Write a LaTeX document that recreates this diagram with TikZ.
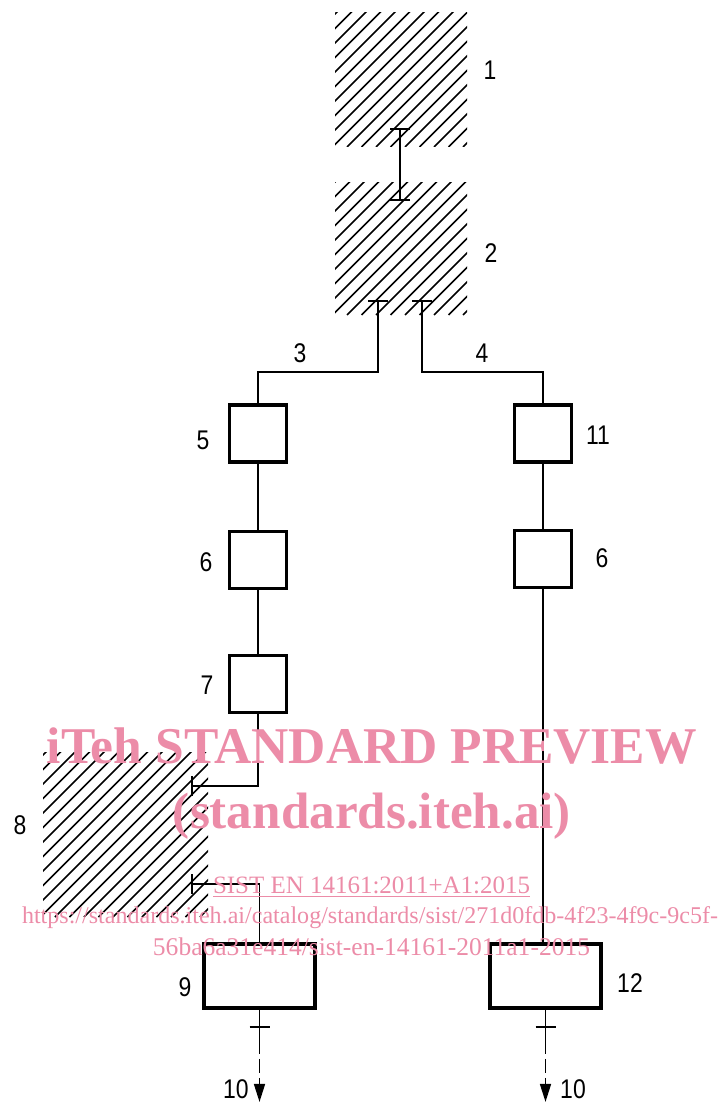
\documentclass[tikz,border=0pt]{standalone}
\usepackage{fontspec}
\usepackage{graphicx}
\newfontfamily\lblfont[FakeStretch=0.85]{Liberation Sans}
\newfontfamily\wmfont{Liberation Serif}
\usetikzlibrary{arrows.meta,calc}
\definecolor{wmpink}{RGB}{236,140,168}
\begin{document}
\begin{tikzpicture}[x=1pt,y=-1pt,
  conn/.style={line width=1.6pt},
  stepbox/.style={draw,line width=3.8pt,minimum width=57pt,minimum height=57pt,inner sep=0pt},
  widebox/.style={draw,line width=3.8pt,minimum width=111pt,minimum height=64pt,inner sep=0pt},
  hatchbox/.style={inner sep=0pt,path picture={
     \foreach \k in {0,...,45}{
       \draw[line width=1.7pt] ([xshift=\k*14.5pt-220pt]path picture bounding box.south west) -- ++(260pt,260pt);}}},
  lbl/.style={font=\lblfont\fontsize{27}{27}\selectfont,inner sep=0pt},
  tbar/.tip={Bar[width=20pt,line width=1.6pt]},
  wm/.style={text=wmpink,inner sep=0pt,anchor=base}
]
\useasboundingbox (0,0) rectangle (723,1102);

% hatched areas
\node[hatchbox,minimum width=132pt,minimum height=134pt] (h1) at (401,80) {};
\node[hatchbox,minimum width=132pt,minimum height=132pt] (h2) at (401,249) {};
\node[hatchbox,minimum width=165pt,minimum height=165pt] (h8) at (125.5,834.5) {};

% step boxes
\node[stepbox] (b5) at (258,433.5) {};
\node[stepbox] (b6l) at (258,560) {};
\node[stepbox] (b7) at (258,684) {};
\node[stepbox] (b11) at (543,433.5) {};
\node[stepbox] (b6r) at (543,559) {};
\node[widebox] (b9) at (259.5,976) {};
\node[widebox] (b12) at (545.5,976) {};

% labels
\node[lbl] (l1) at (490,70) {1};
\node[lbl] (l2) at (491,253) {2};
\node[lbl] (l3) at (300,353) {3};
\node[lbl] (l4) at (482,353) {4};
\node[lbl] (l5) at (203,440) {5};
\node[lbl] (l11) at (598,435) {11};
\node[lbl] (l6l) at (206,562) {6};
\node[lbl] (l6r) at (602,558) {6};
\node[lbl] (l7) at (207,685) {7};
\node[lbl] (l8) at (20,825) {8};
\node[lbl] (l9) at (185,987) {9};
\node[lbl] (l12) at (630,983) {12};
\node[lbl] (l10a) at (236,1089) {10};
\node[lbl] (l10b) at (573,1089) {10};

% coordinates
\coordinate (t12a) at (400,128);
\coordinate (t12b) at (400,201);
\coordinate (s3) at (378,300);
\coordinate (s4) at (422,300);
\coordinate (t8a) at (191,786);
\coordinate (t8b) at (191,884);

% connectors
\draw[conn,{tbar}-{tbar}] (t12a) -- (t12b);
\draw[conn,{tbar}-] (s3) -- ++(0,72) -| (b5.north);
\draw[conn,{tbar}-] (s4) -- ++(0,72) -| (b11.north);
\draw[conn] (b5) -- (b6l);
\draw[conn] (b6l) -- (b7);
\draw[conn] (b11) -- (b6r);
\draw[conn] (b6r.south) -- (b6r.south |- b12.north);
\draw[conn,-{tbar}] (b7.south) |- (t8a);
\draw[conn,{tbar}-] (t8b) -| (b9.north);

% outputs
\coordinate (k9) at ($(b9.south)+(0,17)$);
\coordinate (k12) at ($(b12.south)+(0,17)$);
\coordinate (d9) at ($(b9.south)+(0,30)$);
\coordinate (d12) at ($(b12.south)+(0,30)$);
\coordinate (e9) at ($(b9.south)+(0,92)$);
\coordinate (e12) at ($(b12.south)+(0,92)$);
\draw[conn] (b9.south) -- (d9);
\draw[conn] (b12.south) -- (d12);
\draw[conn] ([xshift=-10pt]k9) -- ([xshift=10pt]k9);
\draw[conn] ([xshift=-10pt]k12) -- ([xshift=10pt]k12);
\draw[conn,dash pattern=on 14pt off 5pt,-{Triangle[length=18pt,width=11pt]}] (d9) -- (e9);
\draw[conn,dash pattern=on 14pt off 5pt,-{Triangle[length=18pt,width=11pt]}] (d12) -- (e12);

% watermark
\node[wm] (w1) at (372,763) {\resizebox{650pt}{!}{\wmfont\bfseries iTeh STANDARD PREVIEW}};
\node[wm] (w2) at (372,828) {\resizebox{398pt}{!}{\wmfont\bfseries (standards.iteh.ai)}};
\node[wm] (w3) at (371.5,893) {\resizebox{317pt}{!}{\wmfont\underline{SIST EN 14161:2011+A1:2015}}};
\node[wm] (w4) at (370,923) {\resizebox{696pt}{!}{\wmfont https://standards.iteh.ai/catalog/standards/sist/271d0fdb-4f23-4f9c-9c5f-}};
\node[wm] (w5) at (371.5,955) {\resizebox{437pt}{!}{\wmfont 56ba6a31e414/sist-en-14161-2011a1-2015}};
\end{tikzpicture}
\end{document}
